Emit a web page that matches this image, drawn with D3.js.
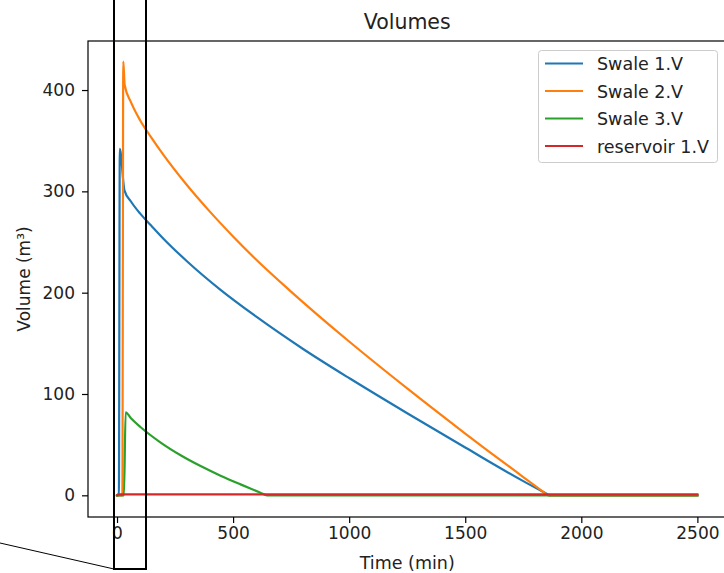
<!DOCTYPE html>
<html><head><meta charset="utf-8">
<script src="https://cdn.jsdelivr.net/npm/d3@7"></script>
<style>body{margin:0;background:#fff}svg{display:block;font-family:"DejaVu Sans",sans-serif}</style>
</head><body><svg id="c" width="724" height="573"></svg>
<script>
const seriesNames = ["Swale 1.V","Swale 2.V","Swale 3.V","reservoir 1.V"];
const colors = ["#1f77b4","#ff7f0e","#2ca02c","#d62728"];
const swale1T = [0,8,12,32,60,100,146,200,300,446,600,800,1005,1250,1500,1750,1850,1863,2500];
const swale1V = [0,0,342,301,290,278,266.5,253.3,231.3,202.8,176.3,144.7,115,81,47.2,14,1.6,0,0];
const swale2T = [0,23,27,33,60,100,145,200,300,400,500,600,747,1000,1250,1500,1750,1842,1857,2500];
const swale2V = [0,0,428,405,388,370,354,336,306.5,280,255.5,232.5,201.6,151.8,105.5,61,18,2.5,0,0];
const swale3T = [0,30,37,60,102,188,274,360,446,532,618,646,2500];
const swale3V = [0,0,82,76,67.2,52.1,39.6,28.9,19.4,10.8,2.6,0,0];
const reservoirT = [0,5,2500];
const reservoirV = [0,1,1];
const xTicks = [0,500,1000,1500,2000,2500];
const yTicks = [0,100,200,300,400];

const svg = d3.select("#c");
const L=88,T=41,R=726.4,B=517;
const x = d3.scaleLinear().domain([-125,2625]).range([L,R]);
const y = d3.scaleLinear().domain([-21.4,448.4]).range([B,T]);

const data = [
  swale1T.map((t,i)=>[t,swale1V[i]]),
  swale2T.map((t,i)=>[t,swale2V[i]]),
  swale3T.map((t,i)=>[t,swale3V[i]]),
  reservoirT.map((t,i)=>[t,reservoirV[i]])
];
const line = d3.line().x(d=>x(d[0])).y(d=>y(d[1])).curve(d3.curveMonotoneX);
data.forEach((d,i)=>{
  svg.append("path").attr("d",line(d)).attr("fill","none").attr("stroke",colors[i])
    .attr("stroke-width",2.2).attr("stroke-linejoin","round").attr("stroke-linecap","square");
});

// axes
const xa = svg.append("g").attr("transform",`translate(0,${B})`)
  .call(d3.axisBottom(x).tickValues(xTicks).tickSize(6).tickPadding(4).tickFormat(d3.format("d")));
const ya = svg.append("g").attr("transform",`translate(${L},0)`)
  .call(d3.axisLeft(y).tickValues(yTicks).tickSize(6).tickPadding(7).tickFormat(d3.format("d")));
[xa,ya].forEach(g=>{
  g.select(".domain").remove();
  g.selectAll("text").attr("font-size","17px").attr("fill","#222").attr("font-family","DejaVu Sans");
  g.selectAll("line").attr("stroke","#000").attr("stroke-width",1.2);
});
svg.append("rect").attr("x",L).attr("y",T).attr("width",R-L).attr("height",B-T)
  .attr("fill","none").attr("stroke","#000").attr("stroke-width",1.2);

svg.append("text").attr("x",(L+R)/2).attr("y",29).attr("text-anchor","middle")
  .attr("font-size","20.5px").attr("fill","#222").text("Volumes");
svg.append("text").attr("x",(L+R)/2).attr("y",569).attr("text-anchor","middle")
  .attr("font-size","17.5px").attr("fill","#222").text("Time (min)");
svg.append("text").attr("transform",`translate(30,${(T+B)/2}) rotate(-90)`).attr("text-anchor","middle")
  .attr("font-size","17px").attr("fill","#222").text("Volume (m³)");

// legend
const lg = svg.append("g");
lg.append("rect").attr("x",538.5).attr("y",50.5).attr("width",179).attr("height",112).attr("rx",3)
  .attr("fill","#fff").attr("fill-opacity",0.8).attr("stroke","#ccc").attr("stroke-width",1);
seriesNames.forEach((n,i)=>{
  const yy = 63.5 + i*27.5;
  lg.append("line").attr("x1",545).attr("x2",583).attr("y1",yy).attr("y2",yy)
    .attr("stroke",colors[i]).attr("stroke-width",2.2);
  lg.append("text").attr("x",597).attr("y",yy+6.5).attr("font-size","17.5px").attr("fill","#222").text(n);
});

// zoom indicator annotation
svg.append("rect").attr("x",114).attr("y",-5).attr("width",32).attr("height",574)
  .attr("fill","none").attr("stroke","#000").attr("stroke-width",2);
svg.append("line").attr("x1",0).attr("y1",543).attr("x2",114).attr("y2",569)
  .attr("stroke","#000").attr("stroke-width",1);
</script></body></html>
